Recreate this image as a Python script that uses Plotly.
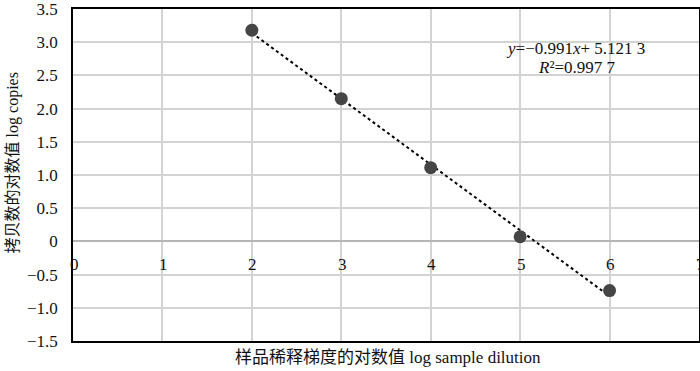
import plotly.graph_objects as go

# data
log_dilution = [2, 3, 4, 5, 6]
log_copies = [3.18, 2.15, 1.11, 0.07, -0.74]
fit_slope = -0.991
fit_intercept = 5.1213
x_ticks = [0, 1, 2, 3, 4, 5, 6, 7]
x_tick_labels = ["0", "1", "2", "3", "4", "5", "6", "7"]
y_ticks = [3.5, 3.0, 2.5, 2.0, 1.5, 1.0, 0.5, 0, -0.5, -1.0, -1.5]
y_tick_labels = ["3.5", "3.0", "2.5", "2.0", "1.5", "1.0", "0.5", "0", "−0.5", "−1.0", "−1.5"]
eq_text = "<i>y</i>=−0.991<i>x</i>+ 5.121 3"
r2_text = "<i>R</i>²=0.997 7"
x_title = "样品稀释梯度的对数值 log sample dilution"
y_title = "拷贝数的对数值 log copies"

FONT = "Liberation Serif, Times New Roman, Noto Sans CJK SC, serif"

fit_x = [min(log_dilution), max(log_dilution)]
fit_y = [fit_slope * v + fit_intercept for v in fit_x]

fig = go.Figure()
fig.add_trace(go.Scatter(x=fit_x, y=fit_y, mode="lines",
                         line=dict(color="black", width=2, dash="dot"),
                         hoverinfo="skip", showlegend=False))
fig.add_trace(go.Scatter(x=log_dilution, y=log_copies, mode="markers",
                         marker=dict(size=13, color="#454545"),
                         showlegend=False))

annotations = []
for v, t in zip(x_ticks, x_tick_labels):
    annotations.append(dict(text=t, x=v, y=0, xref="x", yref="y",
                            xanchor="center", yanchor="top", yshift=-12, xshift=1,
                            showarrow=False, font=dict(size=17)))
annotations += [
    dict(text=eq_text, xref="paper", yref="paper", x=0.688, y=0.8825,
         xanchor="left", yanchor="middle", showarrow=False, font=dict(size=17)),
    dict(text=r2_text, xref="paper", yref="paper", x=0.739, y=0.823,
         xanchor="left", yanchor="middle", showarrow=False, font=dict(size=17)),
    dict(text=x_title, xref="paper", yref="paper", x=0.503, y=0, yshift=-16,
         xanchor="center", yanchor="middle", showarrow=False, font=dict(size=17)),
    dict(text=y_title, xref="paper", yref="paper", x=0, xshift=-60, y=0.535,
         xanchor="center", yanchor="middle", textangle=-90, showarrow=False,
         font=dict(size=16)),
]

fig.update_layout(
    width=700, height=371,
    margin=dict(l=73, r=1, t=9, b=30, autoexpand=False),
    paper_bgcolor="white", plot_bgcolor="white",
    font=dict(family=FONT, size=17, color="#111111"),
    xaxis=dict(range=[0, 7], tickvals=x_ticks, showticklabels=False,
               showgrid=True, gridcolor="#d3d3d3", gridwidth=1.5,
               showline=True, linecolor="black", linewidth=1.5, mirror=True,
               zeroline=False, ticks="", automargin=False),
    yaxis=dict(range=[-1.5, 3.5], tickvals=y_ticks, ticktext=y_tick_labels,
               showgrid=True, gridcolor="#d3d3d3", gridwidth=1.5,
               zeroline=True, zerolinecolor="#b5b5b5", zerolinewidth=2,
               showline=True, linecolor="black", linewidth=1.5, mirror=True,
               ticks="", ticklabelstandoff=10, automargin=False,
               ticklabeloverflow="allow", tickfont=dict(size=17)),
    annotations=annotations,
)

fig.write_html("out.html", config={"displayModeBar": False},
               post_script="document.body.style.margin='0';document.body.style.overflow='hidden';")
